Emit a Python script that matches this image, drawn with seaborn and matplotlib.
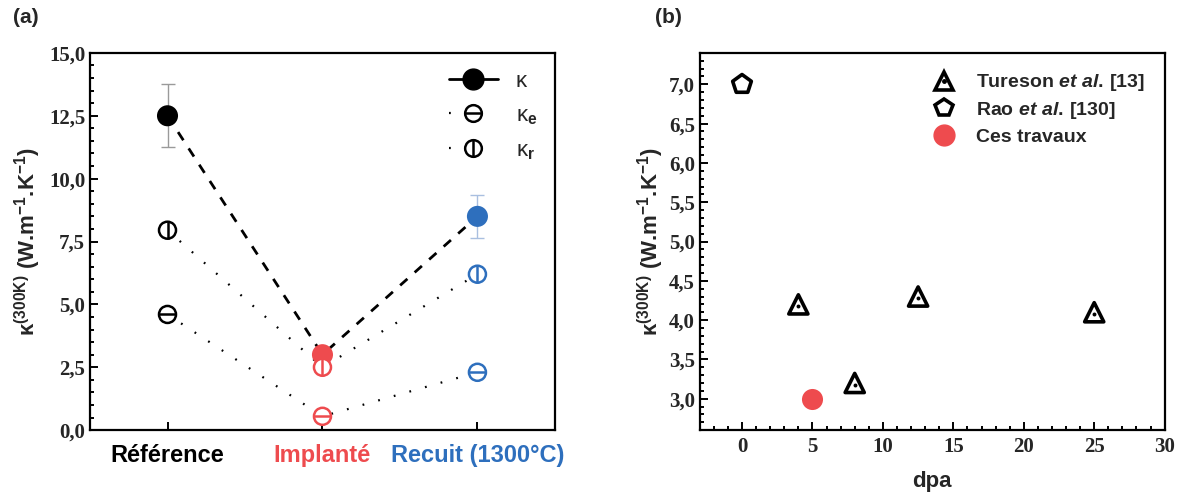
import numpy as np
import pandas as pd
import matplotlib
matplotlib.use('Agg')
import matplotlib.pyplot as plt
from matplotlib.lines import Line2D
from matplotlib.ticker import MultipleLocator, FuncFormatter
import seaborn as sns

# données (a)
categories = ['Référence', 'Implanté', 'Recuit (1300°C)']
cat_colors = ['#000000', '#EE4B4E', '#2E6FBD']
kappa = [12.5, 3.0, 8.5]
kappa_err = [1.25, 0.0, 0.85]
kappa_e = [4.6, 0.55, 2.3]
kappa_r = [7.95, 2.5, 6.2]

# données (b)
tureson_dpa = [4, 8, 12.5, 25]
tureson_k = [4.2, 3.2, 4.3, 4.1]
rao_dpa = [0]
rao_k = [7.0]
ces_dpa = [5]
ces_k = [3.0]

sns.set_style('ticks')
plt.rcParams['font.family'] = ['Liberation Sans', 'DejaVu Sans']
plt.rcParams['mathtext.fontset'] = 'custom'
plt.rcParams['mathtext.rm'] = 'Liberation Sans:bold'
plt.rcParams['mathtext.bf'] = 'Liberation Sans:bold'
plt.rcParams['mathtext.it'] = 'Liberation Sans:italic:bold'

RED = '#EE4B4E'
comma = FuncFormatter(lambda v, p: f'{v:.1f}'.replace('.', ','))
serif_bold = dict(family=['Liberation Serif', 'DejaVu Serif'], weight='bold')
YLABEL = 'κ$^{\\mathrm{(300K)}}$ (W.m$^{\\mathrm{-1}}$.K$^{\\mathrm{-1}}$)'


def style_axes(ax):
    for s in ax.spines.values():
        s.set_linewidth(1.6)
        s.set_color('black')
    ax.tick_params(which='both', direction='in', color='black', width=1.4)
    ax.tick_params(which='major', length=6)
    ax.tick_params(which='minor', length=3)


fig = plt.figure(figsize=(11.86, 4.99), dpi=100)
ax1 = fig.add_axes([0.0759, 0.138, 0.392, 0.756])
ax2 = fig.add_axes([0.590, 0.138, 0.392, 0.756])

# ---------- (a) ----------
df = pd.DataFrame({'x': [0, 1, 2], 'cat': categories, 'k': kappa,
                   'ke': kappa_e, 'kr': kappa_r})

sns.lineplot(data=df, x='x', y='k', color='black', lw=2.0,
             linestyle=(0, (3.5, 3.5)), errorbar=None, ax=ax1, zorder=1)
sns.lineplot(data=df, x='x', y='ke', color='black', lw=1.6,
             linestyle=(0, (0.8, 6.5)), errorbar=None, ax=ax1, zorder=1)
sns.lineplot(data=df, x='x', y='kr', color='black', lw=1.6,
             linestyle=(0, (0.8, 6.5)), errorbar=None, ax=ax1, zorder=1)

ax1.errorbar([0], [kappa[0]], yerr=[kappa_err[0]], fmt='none',
             ecolor='#9a9a9a', elinewidth=1.0, capsize=5, capthick=1.0, zorder=2)
ax1.errorbar([2], [kappa[2]], yerr=[kappa_err[2]], fmt='none',
             ecolor='#a9bfe0', elinewidth=1.0, capsize=5, capthick=1.0, zorder=2)

# kappa (cercles pleins)
sns.scatterplot(data=df, x='x', y='k', hue='cat', palette=cat_colors, s=230,
                linewidth=0, legend=False, ax=ax1, zorder=4)

# kappa_e / kappa_r (cercles creux barrés)
for col, bar in [('ke', '_'), ('kr', '|')]:
    sns.scatterplot(data=df, x='x', y=col, marker='o', s=150, legend=False,
                    ax=ax1, zorder=4)
    pts = ax1.collections[-1]
    pts.set_facecolor('white')
    pts.set_edgecolor(cat_colors)
    pts.set_linewidth(1.8)
    sns.scatterplot(data=df, x='x', y=col, marker=bar, s=150, legend=False,
                    ax=ax1, zorder=5)
    pts = ax1.collections[-1]
    pts.set_facecolor(cat_colors)
    pts.set_edgecolor(cat_colors)
    pts.set_linewidth(1.8)

ax1.set_xlim(-0.5, 2.5)
ax1.set_ylim(0, 15)
ax1.set_xticks([0, 1, 2])
ax1.set_xticklabels(categories)
for lab, c in zip(ax1.get_xticklabels(), cat_colors):
    lab.set_color(c)
    lab.set_fontweight('bold')
    lab.set_fontsize(17)
ax1.tick_params(axis='x', pad=10)
ax1.yaxis.set_major_locator(MultipleLocator(2.5))
ax1.yaxis.set_minor_locator(MultipleLocator(0.5))
ax1.yaxis.set_major_formatter(comma)
style_axes(ax1)
for lab in ax1.get_yticklabels():
    lab.set(**serif_bold)
    lab.set_fontsize(15)
ax1.set_xlabel('')
ax1.set_ylabel(YLABEL, fontsize=16, fontweight='bold', labelpad=4)

h_k = Line2D([], [], color='black', lw=2, marker='o', ms=15, mfc='black', mec='black')
h_e = (Line2D([], [], color='black', lw=1.6, ls=(0, (0.8, 30)), marker='o', ms=12,
              mfc='white', mec='black', mew=1.8),
       Line2D([], [], ls='none', marker='_', ms=12, mec='black', mew=1.8))
h_r = (Line2D([], [], color='black', lw=1.6, ls=(0, (0.8, 30)), marker='o', ms=12,
              mfc='white', mec='black', mew=1.8),
       Line2D([], [], ls='none', marker='|', ms=12, mec='black', mew=1.8))
ax1.legend([h_k, h_e, h_r],
           ['κ', 'κ$_{\\mathrm{e}}$', 'κ$_{\\mathrm{r}}$'],
           loc='upper right', frameon=False, fontsize=16, handlelength=2.2,
           labelspacing=0.6, borderaxespad=0.4, handletextpad=0.8)

# ---------- (b) ----------
sns.scatterplot(x=tureson_dpa, y=tureson_k, marker='^', s=190, ax=ax2, zorder=3)
pts = ax2.collections[-1]
pts.set_facecolor('none')
pts.set_edgecolor('black')
pts.set_linewidth(2.6)
sns.scatterplot(x=tureson_dpa, y=[v - 0.02 for v in tureson_k], marker='o', s=8,
                color='black', linewidth=0, ax=ax2, zorder=3)
sns.scatterplot(x=rao_dpa, y=rao_k, marker='p', s=200, ax=ax2, zorder=3)
pts = ax2.collections[-1]
pts.set_facecolor('none')
pts.set_edgecolor('black')
pts.set_linewidth(2.6)
sns.scatterplot(x=ces_dpa, y=ces_k, marker='o', s=230, color=RED, linewidth=0,
                ax=ax2, zorder=3)

ax2.set_xlim(-3, 30)
ax2.set_ylim(2.6, 7.4)
ax2.xaxis.set_major_locator(MultipleLocator(5))
ax2.xaxis.set_minor_locator(MultipleLocator(1))
ax2.yaxis.set_major_locator(MultipleLocator(0.5))
ax2.yaxis.set_minor_locator(MultipleLocator(0.1))
ax2.yaxis.set_major_formatter(comma)
style_axes(ax2)
for lab in ax2.get_yticklabels() + ax2.get_xticklabels():
    lab.set(**serif_bold)
    lab.set_fontsize(15)
ax2.tick_params(axis='x', pad=5)
ax2.set_xlabel('dpa', fontsize=16, fontweight='bold', labelpad=10)
ax2.set_ylabel(YLABEL, fontsize=16, fontweight='bold', labelpad=2)

hb1 = (Line2D([], [], ls='none', marker='^', ms=13, mfc='none', mec='black', mew=2.6),
       Line2D([], [], ls='none', marker='o', ms=2.5, mfc='black', mec='black'))
hb2 = Line2D([], [], ls='none', marker='p', ms=13, mfc='none', mec='black', mew=2.6)
hb3 = Line2D([], [], ls='none', marker='o', ms=15, mfc=RED, mec=RED)
leg = ax2.legend([hb1, hb2, hb3],
                 ['Tureson $et\\ al.\\,$[13]', 'Rao $et\\ al.\\,$[130]', 'Ces travaux'],
                 loc='upper right', frameon=False, fontsize=14,
                 handlelength=1.5, labelspacing=0.35, handletextpad=0.9,
                 borderaxespad=0.6)
for t in leg.get_texts():
    t.set_fontweight('bold')

fig.text(0.011, 0.965, '(a)', fontsize=15, fontweight='bold', va='center')
fig.text(0.552, 0.965, '(b)', fontsize=15, fontweight='bold', va='center')

fig.savefig('out.png', dpi=100)
